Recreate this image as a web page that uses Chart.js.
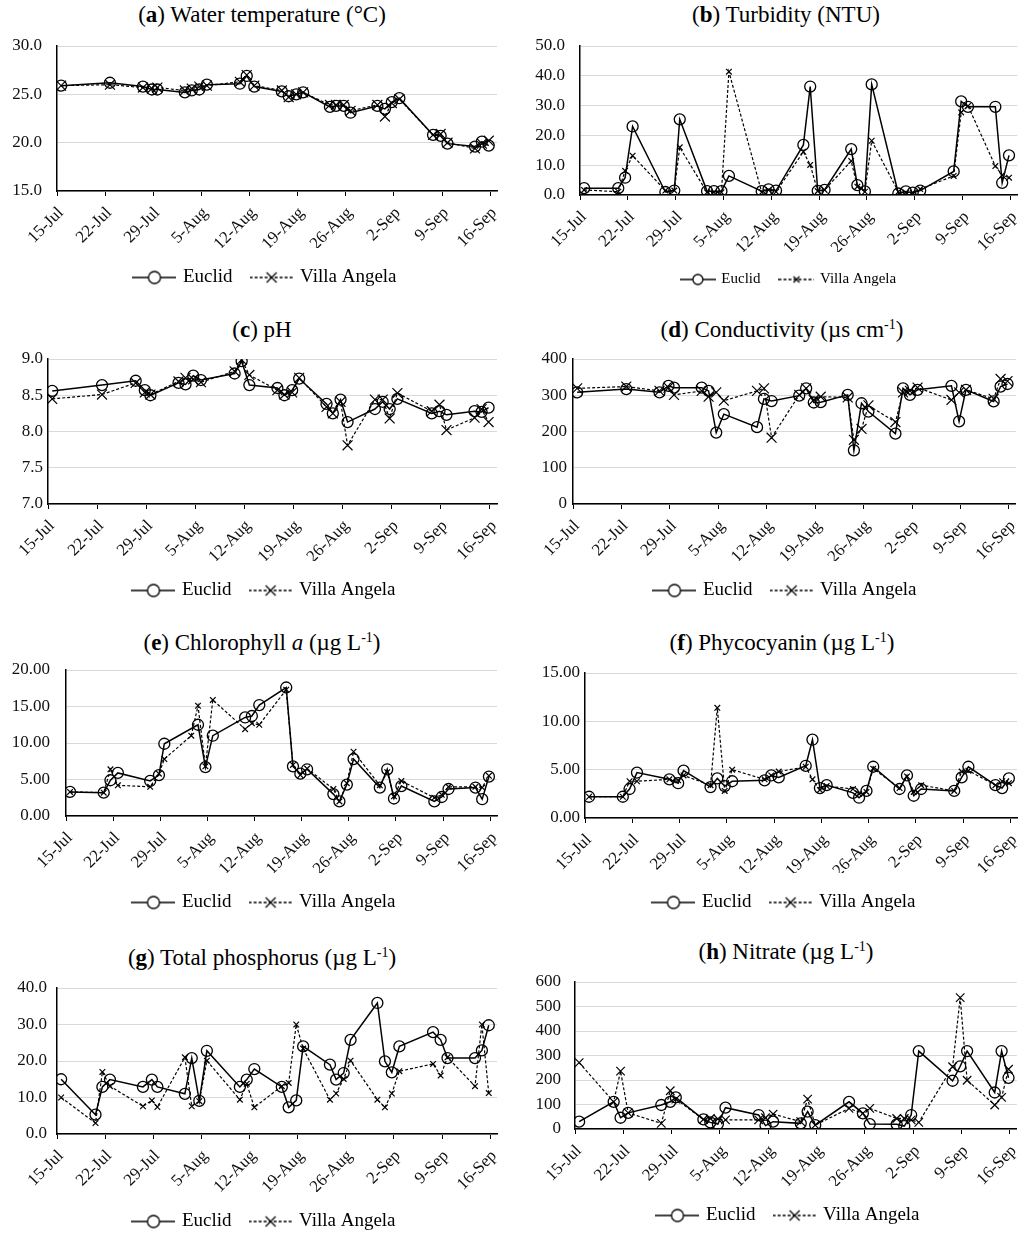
<!DOCTYPE html>
<html>
<head>
<meta charset="utf-8">
<script src="https://cdn.jsdelivr.net/npm/chart.js@4.4.0/dist/chart.umd.min.js"></script>
<style>
  body { margin: 0; background: #fff; overflow: hidden; }
  #fig { position: relative; width: 1024px; height: 1234px; overflow: hidden; font-family: 'Liberation Serif', 'Times New Roman', serif; }
  .ttl { position: absolute; width: 480px; text-align: center; font-size: 23px; line-height: 26px; color: #000; white-space: nowrap; }
  .ttl sup { font-size: 14px; vertical-align: 8px; line-height: 0; }
  canvas { position: absolute; }
</style>
</head>
<body>
<div id="fig"></div>
<script>
// x axis: days after 15 July
const tickLabels = ['15-Jul', '22-Jul', '29-Jul', '5-Aug', '12-Aug', '19-Aug', '26-Aug', '2-Sep', '9-Sep', '16-Sep'];
const tickDays = [0, 7, 14, 21, 28, 35, 42, 49, 56, 63];
const sampleDays = [0.6, 5.6, 6.6, 7.7, 12.5, 13.8, 14.6, 18.6, 19.6, 20.7, 21.8, 26.6, 27.6, 28.7, 32.7, 33.7,
                    34.8, 35.8, 39.7, 40.6, 41.7, 42.7, 46.6, 47.7, 48.7, 49.8, 54.7, 55.8, 56.8, 60.8, 61.8, 62.8];
const seriesNames = ['Euclid', 'Villa Angela'];

// (a) water temperature
const tempEuclid = [25.9, null, null, 26.2, 25.8, 25.5, 25.5, 25.2, 25.4, 25.5, 26.0, 26.1, 26.9, 25.8, 25.3, 24.8,
                    25.0, 25.2, 23.7, 23.8, 23.8, 23.1, 23.8, 23.5, 24.2, 24.6, 20.8, 20.7, 19.9, 19.6, 20.1, 19.7];
const tempVilla = [25.9, null, null, 26.0, 25.7, 25.6, 25.7, 25.4, 25.6, 25.8, 25.9, 26.3, 27.0, 25.9, 25.4, 24.7,
                   25.0, 25.2, 23.9, 23.9, 23.9, 23.3, 23.9, 22.7, 24.1, 24.5, 20.8, 20.9, 20.0, 19.4, 19.9, 20.2];
// (b) turbidity
const turbEuclid = [2.3, 2.3, 5.8, 23.0, 1.0, 1.5, 25.4, 1.3, 1.3, 1.3, 6.4, 1.3, 1.9, 1.5, 16.8, 36.4,
                    1.4, 1.7, 15.4, 3.3, 1.2, 37.1, 0.5, 1.2, 0.8, 1.5, 7.9, 31.4, 29.6, 29.6, 4.1, 13.3];
const turbVilla = [1.7, 1.1, 8.1, 13.2, 1.5, 1.5, 16.0, 0.9, 0.9, 0.9, 41.4, 0.9, 1.7, 1.1, 14.5, 10.1,
                   1.3, 1.7, 11.4, 2.8, 1.1, 18.2, 1.1, 0.8, 0.8, 2.0, 6.4, 27.7, 29.9, 9.7, 6.7, 5.8];
// (c) pH
const phEuclid = [8.56, null, null, 8.64, 8.70, 8.57, 8.50, 8.67, 8.65, 8.77, 8.71, 8.80, 8.97, 8.64, 8.60, 8.50,
                  8.57, 8.73, 8.38, 8.25, 8.44, 8.13, 8.31, 8.41, 8.31, 8.45, 8.25, 8.28, 8.23, 8.28, 8.27, 8.33];
const phVilla = [8.45, null, null, 8.51, 8.67, 8.54, 8.51, 8.69, 8.74, 8.72, 8.68, 8.83, 8.99, 8.78, 8.57, 8.51,
                 8.54, 8.74, 8.34, 8.25, 8.41, 7.81, 8.44, 8.44, 8.18, 8.53, 8.28, 8.37, 8.02, 8.19, 8.31, 8.13];
// (d) conductivity
const condEuclid = [308, null, null, 317, 308, 326, 321, 321, 312, 197, 248, 212, 290, 284, 299, 319,
                    280, 281, 301, 148, 278, 255, 194, 319, 301, 315, 326, 228, 315, 283, 324, 331];
const condVilla = [319, null, null, 324, 312, 321, 301, 312, 296, 308, 285, 312, 319, 183, 301, 319,
                   287, 296, 294, 177, 207, 272, 226, 308, 312, 321, 287, 308, 315, 290, 345, 339];
// (e) chlorophyll a
const chlEuclid = [3.3, 3.2, 4.9, 5.9, 4.8, 5.6, 9.9, null, 12.5, 6.7, 11.0, 13.5, 13.7, 15.2, 17.6, 6.8,
                   5.8, 6.4, 3.0, 2.0, 4.3, 7.8, 3.9, 6.4, 2.4, 4.1, 2.0, 2.6, 3.7, 3.9, 2.3, 5.4];
const chlVilla = [3.3, 3.2, 6.4, 4.2, 4.0, 5.8, 7.8, 11.0, 15.1, 6.8, 15.9, 11.9, 12.7, 12.5, 17.3, 7.0,
                  5.6, 6.5, 3.7, 2.0, 4.5, 8.8, 4.2, 6.0, 2.7, 4.8, 2.5, 2.9, 4.0, 4.0, 3.9, 5.5];
// (f) phycocyanin
const phycoEuclid = [2.2, 2.2, 3.0, 4.7, 4.0, 3.6, 4.9, 3.2, 4.1, 3.3, 3.8, 3.9, 4.4, 4.2, 5.4, 8.1,
                     3.1, 3.4, 2.6, 2.1, 2.8, 5.3, 3.0, 4.4, 2.3, 3.0, 2.8, 4.2, 5.3, 3.4, 3.1, 4.1];
const phycoVilla = [2.2, 2.2, 3.8, 3.8, 4.0, 3.9, 4.4, 3.4, 11.4, 2.8, 5.0, 4.0, 4.4, 4.8, 5.3, 4.0,
                    2.9, 3.3, 3.0, 2.5, 2.7, 5.1, 3.1, 4.3, 2.7, 3.4, 2.8, 4.8, 4.9, 3.4, 3.8, 3.6];
// (g) total phosphorus
const tpEuclid = [15.0, 5.3, 12.9, 14.9, 12.9, 14.9, 12.9, 11.0, 20.8, 9.1, 22.8, 12.9, 14.9, 17.8, 12.9, 7.3,
                  9.2, 24.0, 19.0, 14.9, 16.7, 25.8, 35.9, 19.9, 16.9, 24.0, 27.9, 25.8, 20.8, 20.8, 22.9, 29.8];
const tpVilla = [10.0, 3.0, 17.0, 13.1, 7.6, 9.2, 7.4, 21.0, 7.6, 9.0, 20.1, 9.4, 13.8, 7.3, 13.1, 14.0,
                 30.0, 23.4, 9.4, 11.1, 15.1, 20.1, 9.4, 7.3, 11.1, 17.2, 19.2, 16.0, 21.0, 13.1, 30.0, 11.2];
// (h) nitrate
const nitEuclid = [30, 111, 46, 66, 98, 111, 129, 39, 27, 20, 87, 57, 14, 30, 23, 71,
                   16, null, 111, null, 64, 20, 19, 12, 57, 318, 197, 256, 318, 149, 318, 209];
const nitVilla = [271, 111, 236, 66, 23, 156, 122, 39, 43, 41, 37, 37, 46, 61, 30, 122,
                  16, null, 84, null, 64, 84, 43, 43, 37, 27, 254, 536, 199, 98, 129, 244];

const FONT = "'Liberation Serif', 'Times New Roman', serif";

const panels = [
    { title: '(<b>a</b>) Water temperature (°C)', euclid: tempEuclid, villa: tempVilla, yMin: 15, yMax: 30, yStep: 5, dec: 1,
      left: 0, L: 57, R: 497, T: 46, B: 191, legY: 277, legX: 266, legFont: 19, yPad: 15, tx: 262, ty: 15, crossR: 7 },
    { title: '(<b>b</b>) Turbidity (NTU)', euclid: turbEuclid, villa: turbVilla, yMin: 0, yMax: 50, yStep: 10, dec: 1,
      left: 512, L: 580, R: 1019, T: 46, B: 195, legY: 279, legX: 789, legFont: 15, yPad: 15, tx: 786, ty: 15, crossR: 4 },
    { title: '(<b>c</b>) pH', euclid: phEuclid, villa: phVilla, yMin: 7, yMax: 9, yStep: 0.5, dec: 1,
      left: 0, L: 48, R: 497, T: 359, B: 504, legY: 590, legX: 265, legFont: 19, yPad: 5, tx: 262, ty: 330, crossR: 7 },
    { title: '(<b>d</b>) Conductivity (µs cm<sup>-1</sup>)', euclid: condEuclid, villa: condVilla, yMin: 0, yMax: 400, yStep: 100, dec: 0,
      left: 512, L: 573, R: 1017, T: 359, B: 504, legY: 590, legX: 786, legFont: 19, yPad: 6, tx: 782, ty: 330, crossR: 7 },
    { title: '(<b>e</b>) Chlorophyll <i>a</i> (µg L<sup>-1</sup>)', euclid: chlEuclid, villa: chlVilla, yMin: 0, yMax: 20, yStep: 5, dec: 2,
      left: 0, L: 66, R: 497, T: 670, B: 816, legY: 902, legX: 265, legFont: 19, yPad: 16, tx: 262, ty: 643, crossR: 4 },
    { title: '(<b>f</b>) Phycocyanin (µg L<sup>-1</sup>)', euclid: phycoEuclid, villa: phycoVilla, yMin: 0, yMax: 15, yStep: 5, dec: 2,
      left: 512, L: 585, R: 1017, T: 673, B: 818, legY: 902, legX: 785, legFont: 19, yPad: 5, tx: 782, ty: 643, crossR: 4 },
    { title: '(<b>g</b>) Total phosphorus (µg L<sup>-1</sup>)', euclid: tpEuclid, villa: tpVilla, yMin: 0, yMax: 40, yStep: 10, dec: 1,
      left: 0, L: 57, R: 497, T: 988, B: 1134, legY: 1221, legX: 265, legFont: 19, yPad: 10, tx: 262, ty: 958, crossR: 4 },
    { title: '(<b>h</b>) Nitrate (µg L<sup>-1</sup>)', euclid: nitEuclid, villa: nitVilla, yMin: 0, yMax: 600, yStep: 100, dec: 0,
      left: 512, L: 575, R: 1021, T: 982, B: 1129, legY: 1215, legX: 789, legFont: 19, yPad: 14, tx: 786, ty: 952, crossR: 6 }
];

function toPoints(values) {
    return sampleDays.map((d, i) => ({ x: d, y: values[i] }));
}

// small line + marker picture for the legend
function makeIcon(dashed, circle, w, r) {
    const c = document.createElement('canvas');
    c.width = w;
    c.height = 16;
    const g = c.getContext('2d');
    g.strokeStyle = '#000';
    g.lineWidth = 1.3;
    if (dashed) g.setLineDash([3, 2]);
    g.beginPath();
    g.moveTo(0, 8);
    g.lineTo(w, 8);
    g.stroke();
    g.setLineDash([]);
    g.beginPath();
    if (circle) {
        g.fillStyle = '#fff';
        g.arc(w / 2, 8, r, 0, Math.PI * 2);
        g.fill();
        g.stroke();
    } else {
        g.moveTo(w / 2 - r, 8 - r); g.lineTo(w / 2 + r, 8 + r);
        g.moveTo(w / 2 - r, 8 + r); g.lineTo(w / 2 + r, 8 - r);
        g.stroke();
    }
    return c;
}

// move the legend row so that it sits where the original has it
const legendShift = {
    id: 'legendShift',
    afterLayout(chart, args, opts) {
        const lg = chart.legend;
        if (!lg) return;
        const dx = opts.centerX - (lg.left + lg.right) / 2;
        lg.left += dx;
        lg.right += dx;
    }
};

function buildPanel(p) {
    const fig = document.getElementById('fig');

    const t = document.createElement('div');
    t.className = 'ttl';
    t.innerHTML = p.title;
    t.style.left = (p.tx - 240) + 'px';
    t.style.top = (p.ty - 13) + 'px';
    fig.appendChild(t);

    const legPad = 20;
    const top = p.T - 14;
    const bottom = Math.round(p.legY + 10 + p.legFont / 2);
    const height = bottom - top;
    const legH = legPad + p.legFont + 10;
    const xH = (height - legH) - (p.B - top);

    const cv = document.createElement('canvas');
    cv.width = 512;
    cv.height = height;
    cv.style.left = p.left + 'px';
    cv.style.top = top + 'px';
    cv.style.width = '512px';
    cv.style.height = height + 'px';
    fig.appendChild(cv);

    const small = p.legFont < 17;
    const icons = [
        makeIcon(false, true, small ? 36 : 44, small ? 5 : 6),
        makeIcon(true, false, small ? 36 : 44, small ? 3 : 5)
    ];

    new Chart(cv, {
        type: 'line',
        data: {
            datasets: [
                {
                    label: seriesNames[0],
                    data: toPoints(p.euclid),
                    borderColor: '#000',
                    borderWidth: 1.5,
                    pointStyle: 'circle',
                    pointRadius: 5.5,
                    pointBorderWidth: 1.3,
                    pointBorderColor: '#000',
                    pointBackgroundColor: 'rgba(255,255,255,0)',
                    spanGaps: true,
                    tension: 0
                },
                {
                    label: seriesNames[1],
                    data: toPoints(p.villa),
                    borderColor: '#000',
                    borderWidth: 1.2,
                    borderDash: [3, 2],
                    pointStyle: 'crossRot',
                    pointRadius: p.crossR,
                    pointBorderWidth: 1.2,
                    pointBorderColor: '#000',
                    spanGaps: true,
                    tension: 0
                }
            ]
        },
        plugins: [legendShift],
        options: {
            responsive: false,
            animation: false,
            layout: { padding: { top: 14, left: 0, right: p.left + 512 - p.R, bottom: 0 } },
            plugins: {
                tooltip: { enabled: false },
                legendShift: { centerX: p.legX - p.left },
                legend: {
                    position: 'bottom',
                    labels: {
                        color: '#000',
                        font: { family: FONT, size: p.legFont },
                        usePointStyle: true,
                        pointStyleWidth: small ? 32 : 38,
                        padding: legPad,
                        generateLabels: (chart) => {
                            const items = Chart.defaults.plugins.legend.labels.generateLabels(chart);
                            items.forEach((it, i) => { it.pointStyle = icons[i]; });
                            return items;
                        }
                    }
                }
            },
            scales: {
                x: {
                    type: 'linear',
                    min: 0,
                    max: 64,
                    afterBuildTicks: (s) => { s.ticks = tickDays.map(v => ({ value: v })); },
                    afterFit: (s) => { s.height = xH; s.paddingLeft = 0; s.paddingRight = 0; },
                    ticks: {
                        autoSkip: false,
                        minRotation: 45,
                        maxRotation: 45,
                        padding: 7,
                        labelOffset: 4,
                        color: '#111',
                        font: { family: FONT, size: 17 },
                        callback: (v) => {
                            const k = tickDays.indexOf(v);
                            return k >= 0 ? tickLabels[k] : '';
                        }
                    },
                    grid: { drawOnChartArea: false, drawTicks: true, tickLength: 5, color: '#000', lineWidth: 1 },
                    border: { color: '#000', width: 1.5 }
                },
                y: {
                    min: p.yMin,
                    max: p.yMax,
                    afterFit: (s) => { s.width = p.L - p.left; s.paddingTop = 0; s.paddingBottom = 0; },
                    ticks: {
                        stepSize: p.yStep,
                        padding: p.yPad,
                        color: '#111',
                        font: { family: FONT, size: 17 },
                        callback: (v) => Number(v).toFixed(p.dec)
                    },
                    grid: { color: '#d9d9d9', lineWidth: 1, drawTicks: false },
                    border: { color: '#000', width: 1.5 }
                }
            }
        }
    });
}

panels.forEach(buildPanel);
</script>
</body>
</html>
